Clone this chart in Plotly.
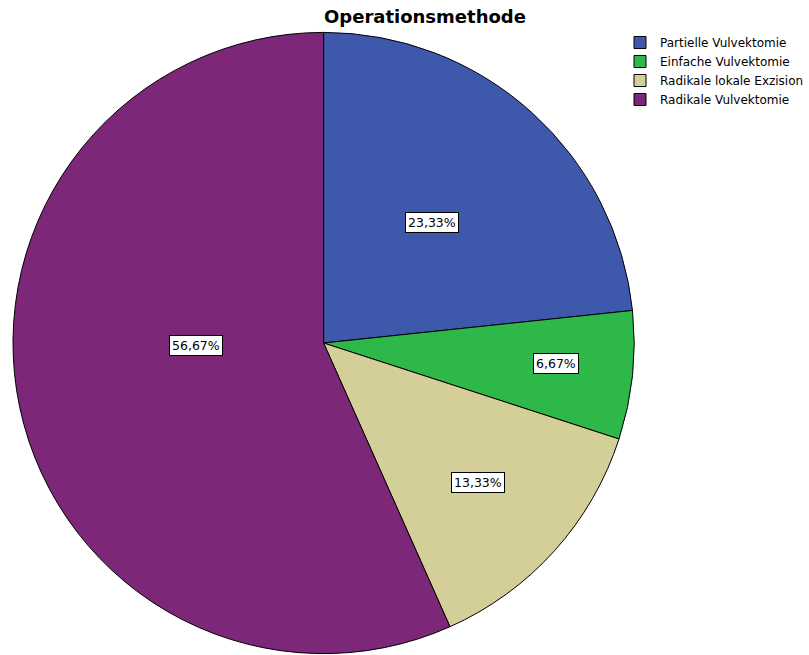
import math
import plotly.graph_objects as go

# Operationsmethode: share of each procedure (percent)
labels = ["Partielle Vulvektomie", "Einfache Vulvektomie",
          "Radikale lokale Exzision", "Radikale Vulvektomie"]
values = [23.33, 6.67, 13.33, 56.67]
value_text = ["23,33%", "6,67%", "13,33%", "56,67%"]

colors = ["#3E58AC", "#2FB84A", "#D4CF98", "#7C2778"]

W, H = 809, 655
cx, cy, R = 324, 343, 311  # pie centre and radius in pixels
FONT = "DejaVu Sans, Verdana, sans-serif"

fig = go.Figure(go.Pie(
    labels=labels, values=values, sort=False,
    direction="clockwise", rotation=0,
    marker=dict(colors=colors, line=dict(color="black", width=1)),
    textinfo="none", hoverinfo="label+percent",
    domain=dict(x=[(cx - R) / W, (cx + R) / W],
                y=[1 - (cy + R) / H, 1 - (cy - R) / H]),
))

# boxed value labels placed along each slice's mid-angle
radial = [0.52, 0.75, 0.67, 0.41]
ang_shift = [0, -1, 0, 11]
total = sum(values)
cum = 0
for v, t, rf, da in zip(values, value_text, radial, ang_shift):
    mid = (cum + v / 2) / total * 360 + da
    cum += v
    a = math.radians(mid)
    px = cx + rf * R * math.sin(a)
    py = cy - rf * R * math.cos(a)
    fig.add_annotation(
        x=px / W, y=1 - py / H, xref="paper", yref="paper",
        xanchor="center", yanchor="middle",
        text=t, showarrow=False,
        font=dict(family=FONT, size=12.5, color="black"),
        bgcolor="white", bordercolor="black", borderwidth=1, borderpad=2,
    )

fig.add_annotation(
    x=426 / W, y=1 - 17 / H, xref="paper", yref="paper",
    xanchor="center", yanchor="middle",
    text="<b>Operationsmethode</b>", showarrow=False,
    font=dict(family=FONT, size=18, color="black"),
)

fig.update_layout(
    width=W, height=H,
    margin=dict(l=0, r=0, t=0, b=0),
    paper_bgcolor="white", plot_bgcolor="white",
    showlegend=True,
    legend=dict(x=621 / W, y=1 - 28 / H, xanchor="left", yanchor="top",
                font=dict(family=FONT, size=12, color="black"),
                bgcolor="rgba(0,0,0,0)", itemwidth=30),
)

fig.write_html("out.html")
